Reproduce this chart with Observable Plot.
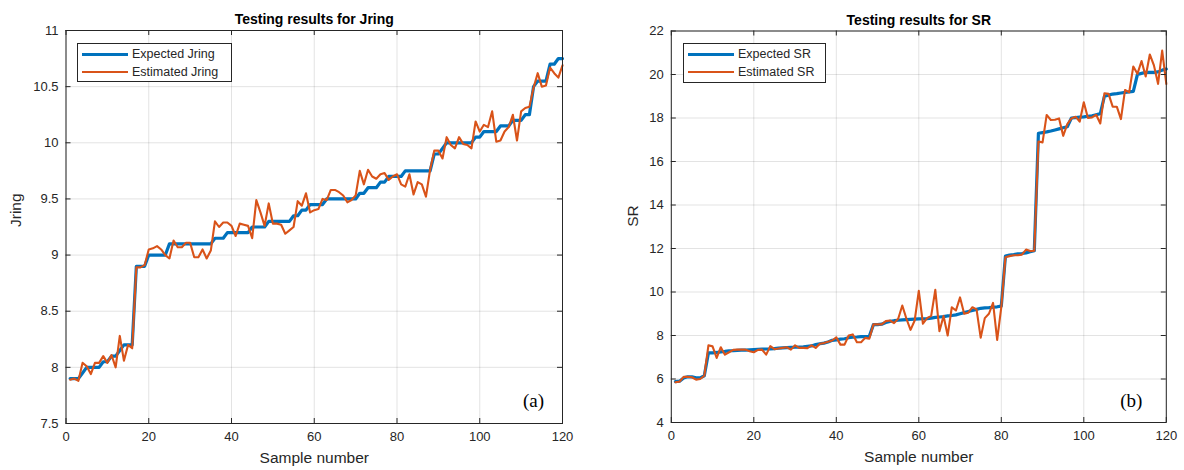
<!DOCTYPE html>
<html><head><meta charset="utf-8">
<script src="https://cdn.jsdelivr.net/npm/d3@7"></script>
<script src="https://cdn.jsdelivr.net/npm/@observablehq/plot@0.6"></script>
<style>
body{margin:0;background:#fff;}
#wrap{position:relative;width:1184px;height:470px;overflow:hidden;font-family:"Liberation Sans",Arial,sans-serif;background:#fff;}
.panel{position:absolute;top:0;}
.legend{position:absolute;border:1px solid #262626;background:#fff;box-sizing:border-box;font-size:12.5px;color:#262626;}
.legend .row{position:absolute;left:0;height:16px;display:flex;align-items:center;white-space:nowrap;}
.legend .sw{width:46px;margin-left:4px;margin-right:4px;}
</style></head><body><div id="wrap"></div>
<script>
// ---- data ----
const sampleNumber = d3.range(1, 121);
const xTicks = [0, 20, 40, 60, 80, 100, 120];
const jringTicks = [7.5, 8, 8.5, 9, 9.5, 10, 10.5, 11];
const srTicks = [4, 6, 8, 10, 12, 14, 16, 18, 20, 22];

const jringExpected = [7.9,7.9,7.9,7.95,8.0,8.0,8.0,8.0,8.05,8.05,
 8.1,8.1,8.15,8.2,8.2,8.2,8.9,8.9,8.9,9.0,
 9.0,9.0,9.0,9.0,9.1,9.1,9.1,9.1,9.1,9.1,
 9.1,9.1,9.1,9.1,9.1,9.15,9.15,9.15,9.2,9.2,
 9.2,9.2,9.2,9.2,9.25,9.25,9.25,9.25,9.3,9.3,
 9.3,9.3,9.3,9.3,9.35,9.35,9.4,9.4,9.45,9.45,
 9.45,9.45,9.5,9.5,9.5,9.5,9.5,9.5,9.5,9.5,
 9.55,9.55,9.6,9.6,9.6,9.65,9.65,9.7,9.7,9.7,
 9.7,9.75,9.75,9.75,9.75,9.75,9.75,9.75,9.9,9.9,
 9.95,10.0,10.0,10.0,10.0,10.0,10.0,10.0,10.05,10.05,
 10.1,10.1,10.1,10.1,10.15,10.15,10.15,10.2,10.2,10.2,
 10.25,10.25,10.5,10.55,10.55,10.55,10.7,10.7,10.75,10.75];

const jringEstimated = [7.89,7.9,7.88,8.04,8.01,7.94,8.04,8.04,8.1,8.04,
 8.11,8.0,8.28,8.06,8.2,8.17,8.89,8.89,8.91,9.05,
 9.06,9.08,9.05,9.0,8.97,9.13,9.07,9.07,9.11,9.11,
 8.98,8.98,9.05,8.97,9.04,9.3,9.25,9.29,9.29,9.26,
 9.17,9.28,9.27,9.26,9.15,9.49,9.38,9.26,9.46,9.28,
 9.28,9.27,9.19,9.22,9.25,9.48,9.44,9.55,9.38,9.4,
 9.41,9.5,9.49,9.58,9.58,9.56,9.53,9.47,9.49,9.53,
 9.75,9.63,9.76,9.7,9.68,9.72,9.73,9.67,9.7,9.72,
 9.63,9.61,9.72,9.54,9.65,9.63,9.52,9.76,9.93,9.93,
 9.86,10.05,9.98,9.95,10.05,9.99,9.98,9.95,10.19,10.1,
 10.16,10.14,10.28,10.01,10.02,10.1,10.14,10.25,10.02,10.28,
 10.31,10.32,10.49,10.62,10.5,10.51,10.67,10.62,10.58,10.69];

const srExpected = [5.88,5.9,6.05,6.1,6.1,6.05,6.05,6.15,7.2,7.2,
 7.22,7.25,7.27,7.3,7.3,7.32,7.33,7.33,7.34,7.35,
 7.36,7.37,7.38,7.38,7.4,7.42,7.43,7.44,7.45,7.46,
 7.47,7.48,7.5,7.52,7.58,7.62,7.65,7.7,7.78,7.8,
 7.83,7.85,7.9,7.92,7.93,7.95,7.95,7.96,8.5,8.5,
 8.52,8.6,8.65,8.68,8.7,8.72,8.73,8.74,8.75,8.76,
 8.77,8.78,8.8,8.83,8.85,8.87,8.9,8.92,8.95,9.0,
 9.05,9.1,9.15,9.2,9.25,9.27,9.28,9.3,9.32,9.35,
 11.65,11.7,11.72,11.75,11.77,11.8,11.85,11.9,17.3,17.33,
 17.36,17.4,17.45,17.5,17.55,17.6,18.0,18.02,18.04,18.05,
 18.08,18.1,18.15,18.2,19.0,19.05,19.1,19.12,19.15,19.18,
 19.2,19.22,20.0,20.05,20.1,20.1,20.1,20.12,20.2,20.25];

const srEstimated = [5.85,5.88,6.1,6.1,6.08,5.97,6.0,6.15,7.55,7.5,
 6.97,7.46,7.12,7.23,7.34,7.35,7.35,7.35,7.28,7.23,
 7.34,7.35,7.12,7.51,7.37,7.4,7.43,7.46,7.35,7.55,
 7.43,7.43,7.42,7.55,7.43,7.62,7.65,7.71,7.77,7.92,
 7.58,7.58,8.0,8.05,7.69,7.69,7.89,7.85,8.51,8.51,
 8.51,8.66,8.69,8.57,8.77,9.38,8.77,8.26,8.69,10.05,
 8.54,8.8,8.9,10.1,8.2,8.9,8.0,9.3,9.15,9.75,
 9.0,9.05,9.3,9.2,7.9,8.8,9.0,9.5,7.8,9.3,
 11.6,11.65,11.69,11.69,11.72,11.95,11.88,11.9,16.92,16.88,
 18.14,17.91,17.92,17.98,17.18,17.72,17.98,18.06,17.83,18.72,
 18.0,18.03,18.15,17.75,19.14,19.11,18.52,18.52,17.95,19.29,
 19.18,20.37,20.03,20.62,19.91,20.92,20.42,19.57,21.1,19.57];

const BLUE = "#0072BD", ORANGE = "#D95319", AX = "#262626";

function panel(cfg) {
  const {left, width, ml, mr, mt, mb, yDomain, yTicks, expected, estimated,
         title, ylab, ylabDx, tag, tagDx, tagDy, legendNames, legendBox} = cfg;
  const height = 470;
  const xDomain = [0, 120];
  const rows = sampleNumber.map((s, i) => ({sample: s, expected: expected[i], estimated: estimated[i]}));
  const tkY = (yDomain[1] - yDomain[0]) * 5 / (height - mt - mb);
  const tkX = (xDomain[1] - xDomain[0]) * 5 / (width - ml - mr);
  const chart = Plot.plot({
    width, height, marginLeft: ml, marginRight: mr, marginTop: mt, marginBottom: mb,
    style: {fontFamily: "'Liberation Sans', Arial, sans-serif", fontSize: "13px", color: AX, background: "white", overflow: "visible"},
    x: {domain: xDomain},
    y: {domain: yDomain},
    marks: [
      Plot.gridX(xTicks, {stroke: AX, strokeOpacity: 0.13, strokeWidth: 1}),
      Plot.gridY(yTicks, {stroke: AX, strokeOpacity: 0.13, strokeWidth: 1}),
      Plot.line(rows, {x: "sample", y: "expected", stroke: BLUE, strokeWidth: 3.2}),
      Plot.line(rows, {x: "sample", y: "estimated", stroke: ORANGE, strokeWidth: 2.1}),
      Plot.frame({stroke: AX, strokeWidth: 1}),
      Plot.ruleX(xTicks, {y1: yDomain[0], y2: yDomain[0] + tkY, stroke: AX}),
      Plot.ruleX(xTicks, {y1: yDomain[1], y2: yDomain[1] - tkY, stroke: AX}),
      Plot.ruleY(yTicks, {x1: xDomain[0], x2: xDomain[0] + tkX, stroke: AX}),
      Plot.ruleY(yTicks, {x1: xDomain[1], x2: xDomain[1] - tkX, stroke: AX}),
      Plot.axisX(xTicks, {tickSize: 0, tickPadding: 8, label: null, fontSize: 13, fill: AX}),
      Plot.axisY(yTicks, {tickSize: 0, tickPadding: 7.5, label: null, fontSize: 13, fill: AX, tickFormat: d => String(d)}),
      Plot.text([title], {text: d => d, frameAnchor: "top", dy: -16, fontWeight: "bold", fontSize: 14, fill: "#000"}),
      Plot.text(["Sample number"], {text: d => d, frameAnchor: "bottom", dy: 39, fontSize: 15.5, fill: AX}),
      Plot.text([ylab], {text: d => d, frameAnchor: "left", dx: ylabDx, rotate: -90, fontSize: 15.5, fill: AX}),
      Plot.text([tag], {text: d => d, frameAnchor: "bottom-right", dx: tagDx, dy: tagDy, textAnchor: "middle", lineAnchor: "middle", fontFamily: "'Liberation Serif', 'Times New Roman', serif", fontSize: 19, fill: "#000"})
    ]
  });
  const div = document.createElement("div");
  div.className = "panel";
  div.style.left = left + "px";
  div.appendChild(chart);
  document.getElementById("wrap").appendChild(div);

  // legend
  const lg = document.createElement("div");
  lg.className = "legend";
  lg.style.left = legendBox.x + "px";
  lg.style.top = legendBox.y + "px";
  lg.style.width = legendBox.w + "px";
  lg.style.height = legendBox.h + "px";
  [[legendNames[0], BLUE, 3], [legendNames[1], ORANGE, 2]].forEach(([name, col, w], k) => {
    const r = document.createElement("div");
    r.className = "row";
    r.style.top = (legendBox.rowTop + k * 18) + "px";
    const sw = document.createElement("div");
    sw.className = "sw";
    sw.style.height = w + "px";
    sw.style.background = col;
    const t = document.createElement("span");
    t.textContent = name;
    r.appendChild(sw); r.appendChild(t);
    lg.appendChild(r);
  });
  document.getElementById("wrap").appendChild(lg);
}

panel({left: 0, width: 600, ml: 65.5, mr: 38, mt: 30, mb: 47,
  yDomain: [7.5, 11], yTicks: jringTicks, expected: jringExpected, estimated: jringEstimated,
  title: "Testing results for Jring", ylab: "Jring", ylabDx: -50,
  tag: "(a)", tagDx: -29, tagDy: -23,
  legendNames: ["Expected Jring", "Estimated Jring"],
  legendBox: {x: 77, y: 43, w: 155, h: 39, rowTop: 2}});

panel({left: 600, width: 584, ml: 70.8, mr: 18.2, mt: 30.5, mb: 48,
  yDomain: [4, 22], yTicks: srTicks, expected: srExpected, estimated: srEstimated,
  title: "Testing results for SR", ylab: "SR", ylabDx: -38,
  tag: "(b)", tagDx: -35, tagDy: -22,
  legendNames: ["Expected SR", "Estimated SR"],
  legendBox: {x: 683, y: 43, w: 143, h: 40, rowTop: 2}});
</script></body></html>
